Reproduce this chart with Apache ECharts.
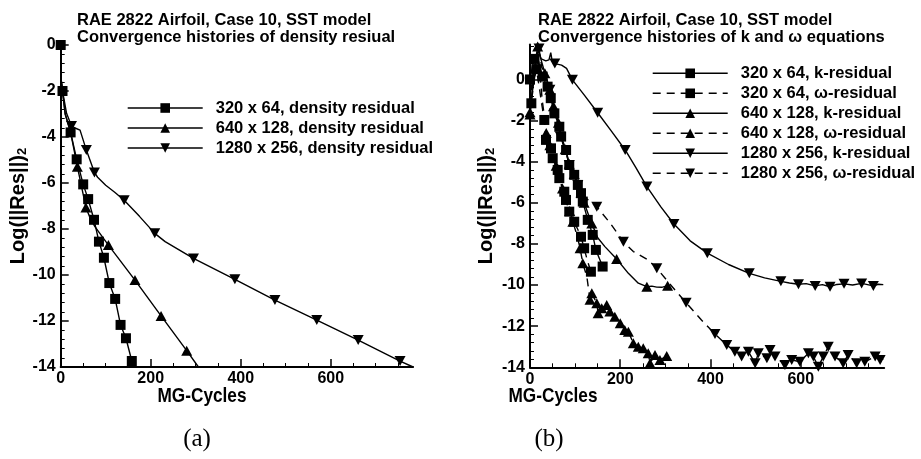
<!DOCTYPE html>
<html><head><meta charset="utf-8">
<script src="https://cdn.jsdelivr.net/npm/echarts@6/dist/echarts.min.js"></script>
<style>html,body{margin:0;padding:0;background:#fff}#c{width:921px;height:459px}</style>
</head><body><div id="c"></div>
<script>
// ---------- tick labels ----------
const xTicks = [0, 200, 400, 600];
const yTicks = [-14, -12, -10, -8, -6, -4, -2, 0];
const xMinorStep = 50;
const yMinorStep = 0.4;

// ---------- panel (a): density residual ----------
const rho320Line = [[0,0],[1,-1.5],[4,-2],[10,-3],[22,-3.8],[35.5,-4.97],[50,-6.06],[61,-6.7],[74,-7.6],[85,-8.55],[96,-9.25],[108,-10.35],[121,-11.04],[133,-12.17],[145,-12.75],[158,-13.74],[161,-14]];
const rho320Marks = [[0,0],[4,-2],[22,-3.8],[35.5,-4.97],[50,-6.06],[61,-6.7],[74,-7.6],[85,-8.55],[96,-9.25],[108,-10.35],[121,-11.04],[133,-12.17],[145,-12.75],[158,-13.74]];
const rho640Line = [[0,0],[1,-1.5],[4,-2],[10,-3],[22,-3.8],[37,-5.29],[56,-7.06],[66,-7.55],[76,-7.9],[106,-8.7],[165,-10.22],[223,-11.78],[280,-13.29],[306,-14]];
const rho640Marks = [[37,-5.29],[56,-7.06],[106,-8.7],[165,-10.22],[223,-11.78],[280,-13.29]];
const rho1280Line = [[0,0],[1,-1.5],[4,-2],[13,-2.97],[24,-3.52],[33,-3.62],[43,-3.7],[57,-4.57],[75,-5.54],[82,-5.75],[100,-6.1],[120,-6.4],[141,-6.75],[175,-7.45],[209,-8.19],[232,-8.55],[295,-9.28],[387,-10.19],[476,-11.09],[569,-11.96],[661,-12.83],[754,-13.74],[783,-14]];
const rho1280Marks = [[24,-3.52],[57,-4.57],[75,-5.54],[141,-6.75],[209,-8.19],[295,-9.28],[387,-10.19],[476,-11.09],[569,-11.96],[661,-12.83],[754,-13.74]];

// ---------- panel (b): k and omega residuals ----------
const k320Line = [[0,0],[5,0.6],[10,1.0],[15,1.2],[21,0.7],[28,0.14],[35,-0.2],[39,-0.35],[46,-0.91],[54,-1.65],[65,-2.3],[69,-2.78],[80,-3.43],[87,-4.16],[98,-4.64],[106,-5.13],[113,-5.53],[117,-5.94],[128,-6.83],[139,-7.56],[146,-8.29],[161,-9.1]];
const k320Marks = [[0,0],[10,1.0],[28,0.14],[39,-0.35],[46,-0.91],[54,-1.65],[65,-2.3],[69,-2.78],[80,-3.43],[87,-4.16],[98,-4.64],[106,-5.13],[113,-5.53],[117,-5.94],[128,-6.83],[139,-7.56],[146,-8.29],[161,-9.1]];
const w320Line = [[0,-1.2],[3,-1.16],[8,-0.2],[14,0.5],[20,-0.3],[26,-1.2],[31.7,-1.97],[35.5,-2.94],[46.5,-3.35],[50.3,-3.83],[61.4,-4.4],[65,-4.8],[76,-5.46],[79.8,-5.86],[87,-6.43],[98,-6.92],[106,-7.3],[113,-7.65],[120,-8.21],[127,-8.8],[135,-9.35]];
const w320Marks = [[3,-1.16],[14,0.5],[31.7,-1.97],[35.5,-2.94],[46.5,-3.35],[50.3,-3.83],[61.4,-4.4],[65,-4.8],[76,-5.46],[79.8,-5.86],[87,-6.43],[98,-6.92],[113,-7.65],[120,-8.21],[135,-9.35]];
const k640Line = [[0,-1.7],[5,-0.6],[10,0.6],[17,1.6],[24,1.0],[33,0.3],[44,-0.5],[52,-1.3],[63,-2.1],[67,-2.78],[78,-3.4],[87,-4.1],[98,-4.6],[106,-5.1],[113,-5.5],[120,-6.0],[130,-6.6],[137,-7.0],[150,-7.7],[166,-8.13],[192,-8.73],[218,-9.43],[240,-9.91],[259,-10.08],[270,-10.05],[281,-10.1],[292,-10.11],[305,-10.03]];
const k640Marks = [[0,-1.7],[17,1.6],[33,0.3],[44,-0.5],[52,-1.3],[63,-2.1],[78,-3.4],[87,-4.1],[98,-4.6],[113,-5.5],[120,-6.0],[137,-7.0],[192,-8.73],[259,-10.08],[305,-10.03]];
const w640Line = [[0,-1.6],[6,-0.6],[12,0.4],[18,1.0],[23,0.1],[27,-1.0],[32,-1.8],[36,-2.6],[44,-3.2],[50,-3.7],[58,-4.2],[64,-4.8],[72,-5.3],[80,-5.9],[88,-6.4],[95,-6.92],[103,-7.5],[111,-8.21],[117,-8.94],[126,-9.59],[133,-10.72],[137,-10.4],[148,-10.89],[151,-11.37],[159,-11.13],[170,-10.97],[177,-11.29],[188,-11.54],[200,-11.86],[210,-12.18],[218,-12.27],[229,-12.83],[240,-13.0],[251,-13.07],[262,-13.32],[266,-13.8],[277,-13.4],[288,-13.64],[303,-13.45]];
const w640Marks = [[0,-1.6],[36,-2.6],[44,-3.2],[58,-4.2],[72,-5.3],[88,-6.4],[95,-6.92],[111,-8.21],[117,-8.94],[133,-10.72],[137,-10.4],[148,-10.89],[151,-11.37],[159,-11.13],[170,-10.97],[177,-11.29],[188,-11.54],[200,-11.86],[210,-12.18],[218,-12.27],[229,-12.83],[240,-13.0],[251,-13.07],[262,-13.32],[266,-13.8],[277,-13.4],[288,-13.64],[303,-13.45]];
const k1280Line = [[0,-1.6],[5,-0.5],[12,0.8],[18,1.4],[25,1.0],[35,0.9],[42,0.95],[46,1.3],[49,0.9],[55,0.77],[70,0.7],[81,0.54],[94,-0.02],[120,-0.75],[150,-1.62],[180,-2.5],[211,-3.43],[235,-4.3],[259,-5.21],[290,-6.2],[319,-7.03],[355,-7.85],[393,-8.45],[440,-9.0],[486,-9.43],[520,-9.65],[556,-9.82],[575,-9.9],[595,-9.96],[612,-9.93],[632,-10.04],[648,-9.98],[665,-10.08],[680,-9.97],[696,-9.94],[715,-10.0],[735,-9.92],[748,-9.98],[761,-10.04],[772,-9.96],[783,-9.98]];
const k1280Marks = [[55,0.77],[94,-0.02],[150,-1.62],[211,-3.43],[259,-5.21],[319,-7.03],[393,-8.45],[486,-9.43],[556,-9.82],[595,-9.96],[632,-10.04],[665,-10.08],[696,-9.94],[735,-9.92],[761,-10.04]];
const w1280Line = [[0,-1.2],[6,0.2],[12,1.0],[20,1.5],[26,0.6],[33,0.3],[44,-0.5],[52,-1.3],[63,-2.1],[67,-2.78],[78,-3.4],[87,-4.16],[98,-4.64],[106,-5.13],[113,-5.53],[124,-5.78],[148,-6.19],[178,-7.0],[207,-7.89],[229,-8.37],[262,-8.78],[281,-9.18],[310,-9.95],[346,-10.86],[380,-11.7],[410,-12.38],[436,-12.91],[454,-13.24],[469,-13.48],[484,-13.24],[499,-13.8],[506,-13.32],[525,-13.56],[532,-13.16],[543,-13.48],[565,-13.89],[580,-13.64],[598,-13.73],[617,-13.32],[628,-13.48],[639,-13.97],[650,-13.48],[661,-13.0],[676,-13.48],[694,-13.8],[705,-13.4],[724,-13.8],[742,-13.73],[765,-13.48],[776,-13.64],[783,-13.6]];
const w1280Marks = [[20,1.5],[44,-0.5],[67,-2.78],[87,-4.16],[106,-5.13],[148,-6.19],[207,-7.89],[281,-9.18],[346,-10.86],[410,-12.38],[436,-12.91],[454,-13.24],[469,-13.48],[484,-13.24],[499,-13.8],[506,-13.32],[525,-13.56],[532,-13.16],[543,-13.48],[565,-13.89],[580,-13.64],[598,-13.73],[617,-13.32],[628,-13.48],[639,-13.97],[650,-13.48],[661,-13.0],[676,-13.48],[694,-13.8],[705,-13.4],[724,-13.8],[742,-13.73],[765,-13.48],[776,-13.64]];

// ---------- names ----------
const namesA = ['320 x 64, density residual', '640 x 128, density residual', '1280 x 256, density residual'];
const namesB = ['320 x 64, k-residual', '320 x 64, \u03c9-residual', '640 x 128, k-residual', '640 x 128, \u03c9-residual', '1280 x 256, k-residual', '1280 x 256, \u03c9-residual'];

// ---------- build ----------
const FONT = '"Liberation Sans", Arial, Helvetica, sans-serif';
const DASH = [8, 6];
function minorVals(lo, hi, step, majors) {
  const out = [];
  for (let v = lo; v <= hi + 1e-9; v = +(v + step).toFixed(6)) {
    if (!majors.some(m => Math.abs(m - v) < 1e-6)) out.push(v);
  }
  return out;
}
const GEOM = [
  { left: 60.7, top: 45, width: 352.4, height: 322, xMax: 783, yMax: 0 },
  { left: 530, top: 44.5, width: 354.2, height: 322.8, xMax: 785, yMax: 1.7 }
];
const grids = GEOM.map(g => ({ left: g.left, top: g.top, width: g.width, height: g.height, containLabel: false }));
const xAxes = [], yAxes = [];
GEOM.forEach((g, gi) => {
  const xMinor = minorVals(0, g.xMax, xMinorStep, xTicks);
  const yMinor = minorVals(-14, g.yMax, yMinorStep, yTicks);
  xAxes.push({
    type: 'value', gridIndex: gi, min: 0, max: g.xMax, position: 'bottom',
    axisLine: { show: true, onZero: false, lineStyle: { color: '#000', width: 2 } },
    axisTick: { show: true, inside: true, length: 8, customValues: xTicks, lineStyle: { color: '#000', width: 1.5 } },
    axisLabel: { show: true, customValues: xTicks, margin: 4, color: '#000', fontFamily: FONT, fontWeight: 'bold', fontSize: 16 },
    splitLine: { show: false }
  });
  xAxes.push({
    type: 'value', gridIndex: gi, min: 0, max: g.xMax, position: 'bottom',
    axisLine: { show: false, onZero: false },
    axisTick: { show: true, inside: true, length: 4, customValues: xMinor, lineStyle: { color: '#000', width: 1 } },
    axisLabel: { show: false }, splitLine: { show: false }
  });
  yAxes.push({
    type: 'value', gridIndex: gi, min: -14, max: g.yMax, position: 'left',
    axisLine: { show: true, onZero: false, lineStyle: { color: '#000', width: 2 } },
    axisTick: { show: true, inside: true, length: 8, customValues: yTicks, lineStyle: { color: '#000', width: 1.5 } },
    axisLabel: { show: true, customValues: yTicks, margin: 5, color: '#000', fontFamily: FONT, fontWeight: 'bold', fontSize: 16 },
    splitLine: { show: false }
  });
  yAxes.push({
    type: 'value', gridIndex: gi, min: -14, max: g.yMax, position: 'left',
    axisLine: { show: false, onZero: false },
    axisTick: { show: true, inside: true, length: 4, customValues: yMinor, lineStyle: { color: '#000', width: 1 } },
    axisLabel: { show: false }, splitLine: { show: false }
  });
});

const series = [];
function addCurve(name, line, marks, panel, dashed, symbol, rotate, size) {
  const ai = panel * 2;
  series.push({
    type: 'line', name: name, data: line, xAxisIndex: ai, yAxisIndex: ai,
    symbol: symbol, symbolRotate: rotate, symbolSize: size, showSymbol: false,
    lineStyle: { color: '#000', width: 1.4, type: dashed ? DASH : 'solid', opacity: 1 },
    itemStyle: { color: '#000', opacity: 1 }, emphasis: { disabled: true }, silent: true, z: 2
  });
  series.push({
    type: 'scatter', name: name + ' (markers)', data: marks, xAxisIndex: ai, yAxisIndex: ai,
    symbol: symbol, symbolRotate: rotate, symbolSize: size,
    itemStyle: { color: '#000', opacity: 1 }, emphasis: { disabled: true }, silent: true, z: 3
  });
}
const SQ = [10, 10], TRI = [11, 10];
addCurve(namesA[0], rho320Line, rho320Marks, 0, false, 'rect', 0, SQ);
addCurve(namesA[1], rho640Line, rho640Marks, 0, false, 'triangle', 0, TRI);
addCurve(namesA[2], rho1280Line, rho1280Marks, 0, false, 'triangle', 180, TRI);
addCurve(namesB[0], k320Line, k320Marks, 1, false, 'rect', 0, SQ);
addCurve(namesB[1], w320Line, w320Marks, 1, true, 'rect', 0, SQ);
addCurve(namesB[2], k640Line, k640Marks, 1, false, 'triangle', 0, TRI);
addCurve(namesB[3], w640Line, w640Marks, 1, true, 'triangle', 0, TRI);
addCurve(namesB[4], k1280Line, k1280Marks, 1, false, 'triangle', 180, TRI);
addCurve(namesB[5], w1280Line, w1280Marks, 1, true, 'triangle', 180, TRI);

function legendOf(names, dashedIdx, left, top) {
  return {
    orient: 'vertical', left: left, top: top, padding: 0, itemGap: 0,
    itemWidth: 75, itemHeight: 12, selectedMode: false,
    data: names.map((n, i) => ({ name: n, lineStyle: { type: dashedIdx.includes(i) ? DASH : 'solid', width: 1.4, color: '#000' } })),
    textStyle: { color: '#000', fontFamily: FONT, fontWeight: 'bold', fontSize: 16.5, lineHeight: 20, padding: [0, 0, 0, 8] }
  };
}

function txt(text, x, y, font, extra) {
  return Object.assign({ type: 'text', x: x, y: y, silent: true,
    style: { text: text, font: font, fill: '#000', align: 'left', verticalAlign: 'middle' } }, extra || {});
}
const TF = 'bold 16.5px ' + FONT;
const graphics = [
  txt('RAE 2822 Airfoil, Case 10, SST model', 77, 20, TF),
  txt('Convergence histories of density resiual', 77, 37.5, TF),
  txt('RAE 2822 Airfoil, Case 10, SST model', 538, 20, TF),
  txt('Convergence histories of k and \u03c9 equations', 538, 37.5, TF),
  { type: 'text', x: 202, y: 396, scaleX: 0.82, silent: true, style: { text: 'MG-Cycles', font: 'bold 21px ' + FONT, fill: '#000', align: 'center', verticalAlign: 'middle' } },
  { type: 'text', x: 553, y: 396, scaleX: 0.82, silent: true, style: { text: 'MG-Cycles', font: 'bold 21px ' + FONT, fill: '#000', align: 'center', verticalAlign: 'middle' } },
  { type: 'text', x: 197, y: 439, silent: true, style: { text: '(a)', font: '25px "Liberation Serif", "DejaVu Serif", serif', fill: '#000', align: 'center', verticalAlign: 'middle' } },
  { type: 'text', x: 549, y: 439, silent: true, style: { text: '(b)', font: '25px "Liberation Serif", "DejaVu Serif", serif', fill: '#000', align: 'center', verticalAlign: 'middle' } }
];
[18, 486].forEach(cx => {
  graphics.push({ type: 'text', x: cx, y: 206, rotation: Math.PI / 2, silent: true,
    style: { text: '{m|Log(||Res||)}{s|2}', fill: '#000', align: 'center', verticalAlign: 'middle',
      rich: { m: { font: 'bold 20px ' + FONT, fill: '#000' }, s: { font: 'bold 13px ' + FONT, fill: '#000', padding: [9, 0, 0, 0] } } } });
});

const chart = echarts.init(document.getElementById('c'), null, { renderer: 'canvas' });
chart.setOption({
  backgroundColor: '#fff', animation: false,
  grid: grids, xAxis: xAxes, yAxis: yAxes, series: series,
  legend: [legendOf(namesA, [], 127, 98), legendOf(namesB, [1, 3, 5], 652, 63.3)],
  graphic: graphics
});
</script></body></html>
